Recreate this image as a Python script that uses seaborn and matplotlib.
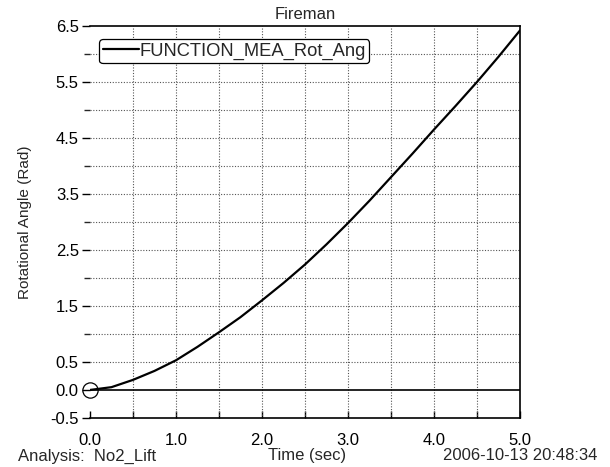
import numpy as np
import pandas as pd
import matplotlib
matplotlib.use("Agg")
import matplotlib.pyplot as plt
import seaborn as sns
from matplotlib.ticker import MultipleLocator, FixedLocator, FixedFormatter

# data
time_sec = [0.0, 0.25, 0.5, 0.75, 1.0, 1.25, 1.5, 1.75, 2.0, 2.25, 2.5,
            2.75, 3.0, 3.25, 3.5, 3.75, 4.0, 4.25, 4.5, 4.75, 5.0]
rot_angle = [0.0, 0.05, 0.18, 0.34, 0.53, 0.77, 1.03, 1.30, 1.60, 1.91, 2.24,
             2.60, 2.98, 3.38, 3.80, 4.22, 4.65, 5.07, 5.50, 5.95, 6.42]
series_name = "FUNCTION_MEA_Rot_Ang"
x_tick_labels = ["0.0", "1.0", "2.0", "3.0", "4.0", "5.0"]
y_tick_values = [6.5, 5.5, 4.5, 3.5, 2.5, 1.5, 0.5, 0.0, -0.5]
y_tick_labels = ["6.5", "5.5", "4.5", "3.5", "2.5", "1.5", "0.5", "0.0", "-0.5"]

sns.set_style("white")
plt.rcParams["font.family"] = ["Liberation Sans", "DejaVu Sans"]

df = pd.DataFrame({"Time": time_sec, "Angle": rot_angle, "Series": series_name})

fig = plt.figure(figsize=(6.1, 4.67), dpi=100)
ax = fig.add_axes([0.1475, 0.105, 0.705, 0.8395])

# grid
for xv in np.arange(0.5, 5.0, 0.5):
    ax.axvline(xv, color="#555555", lw=0.8, ls=(0, (1, 1.5)), zorder=1)
for yv in np.arange(0.5, 6.5, 0.5):
    ax.axhline(yv, color="#555555", lw=0.8, ls=(0, (1, 1.5)), zorder=1)
ax.axhline(0.0, color="black", lw=1.2, zorder=2)

sns.lineplot(data=df, x="Time", y="Angle", hue="Series", palette=["black"],
             linewidth=1.6, ax=ax, zorder=3)
ax.plot([0], [0], marker="o", ms=11, mfc="none", mec="black", mew=0.9,
        ls="none", zorder=4, clip_on=False)

ax.set_xlim(0, 5)
ax.set_ylim(-0.5, 6.5)

ax.xaxis.set_major_locator(FixedLocator([0, 1, 2, 3, 4, 5]))
ax.xaxis.set_major_formatter(FixedFormatter(x_tick_labels))
ax.xaxis.set_minor_locator(MultipleLocator(0.5))
ax.yaxis.set_major_locator(FixedLocator(y_tick_values))
ax.yaxis.set_major_formatter(FixedFormatter(y_tick_labels))
ax.yaxis.set_minor_locator(FixedLocator([6.0, 5.0, 4.0, 3.0, 2.0, 1.0]))

ax.tick_params(axis="x", which="both", direction="in", length=5, width=1,
               pad=11, labelsize=12, colors="black")
ax.tick_params(axis="y", which="major", direction="out", length=6, width=1,
               pad=2, labelsize=12, colors="black")
ax.tick_params(axis="y", which="minor", direction="out", length=4, width=1)
ax.tick_params(left=True, bottom=True, which="both")

for side in ["top", "right", "bottom"]:
    ax.spines[side].set_visible(True)
    ax.spines[side].set_color("black")
    ax.spines[side].set_linewidth(1.2)
ax.spines["left"].set_visible(False)

ax.set_title("Fireman", fontsize=12, pad=5)
ax.set_ylabel("Rotational Angle (Rad)", fontsize=11)
ax.yaxis.set_label_coords(-0.135, 0.5)
ax.set_xlabel("")

leg = ax.legend(loc="upper left", bbox_to_anchor=(0.021, 0.967), borderaxespad=0,
                frameon=True, fancybox=True, fontsize=13.2, handlelength=2.0,
                handletextpad=0.0, borderpad=0.2, edgecolor="black", framealpha=1)
leg.get_frame().set_linewidth(0.9)

fig.text(0.03, 0.014, "Analysis:  No2_Lift", fontsize=12, ha="left", va="baseline")
fig.text(0.503, 0.014, "Time (sec)", fontsize=12, ha="center", va="baseline")
fig.text(0.98, 0.014, "2006-10-13 20:48:34", fontsize=12, ha="right", va="baseline")

fig.savefig("out.png", dpi=100)
